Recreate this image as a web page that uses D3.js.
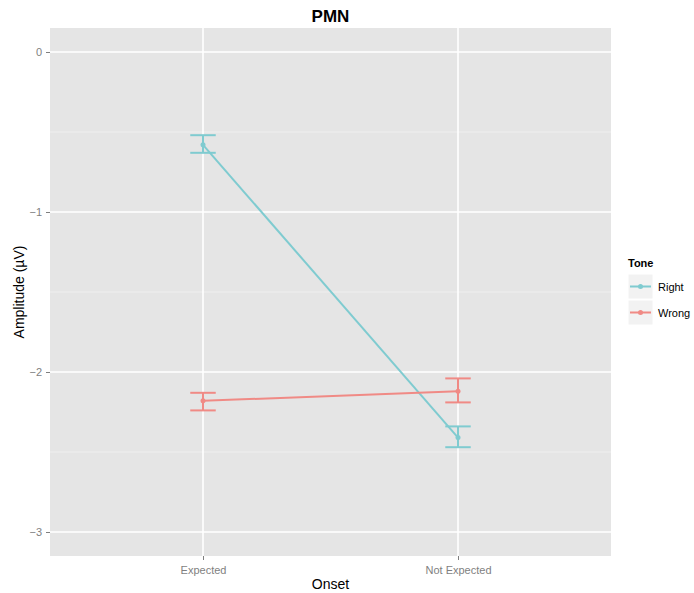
<!DOCTYPE html>
<html>
<head>
<meta charset="utf-8">
<script src="https://cdn.jsdelivr.net/npm/d3@7"></script>
<style>
  body { margin: 0; background: #fff; }
  text { font-family: "Liberation Sans", Arial, sans-serif; }
</style>
</head>
<body>
<svg id="chart" width="694" height="593"></svg>
<script>
// data
let onsets = ["Expected", "Not Expected"];
let tones = ["Right", "Wrong"];
let rightMean = [-0.58, -2.41];
let rightLow = [-0.63, -2.47];
let rightHigh = [-0.52, -2.34];
let wrongMean = [-2.18, -2.12];
let wrongLow = [-2.24, -2.19];
let wrongHigh = [-2.13, -2.04];
let yTicks = [0, -1, -2, -3];
let yMinor = [-0.5, -1.5, -2.5];

let toneColors = { Right: "#7fcbd0", Wrong: "#f08a85" };

let panel = { left: 50, right: 611, top: 28, bottom: 556 };

let svg = d3.select("#chart");

// discrete x with 0.6 expansion on each side
let x = d3.scalePoint()
    .domain(onsets)
    .range([panel.left, panel.right])
    .padding(0.6);

let y = d3.scaleLinear()
    .domain([-3.15, 0.15])
    .range([panel.bottom, panel.top]);

// panel background
svg.append("rect")
    .attr("x", panel.left)
    .attr("y", panel.top)
    .attr("width", panel.right - panel.left)
    .attr("height", panel.bottom - panel.top)
    .attr("fill", "#e5e5e5");

// minor grid
svg.selectAll(".minor")
    .data(yMinor)
    .enter()
    .append("line")
    .attr("x1", panel.left)
    .attr("x2", panel.right)
    .attr("y1", d => y(d))
    .attr("y2", d => y(d))
    .attr("stroke", "#f2f2f2")
    .attr("stroke-width", 0.8);

// major grid
svg.selectAll(".majorY")
    .data(yTicks)
    .enter()
    .append("line")
    .attr("x1", panel.left)
    .attr("x2", panel.right)
    .attr("y1", d => y(d))
    .attr("y2", d => y(d))
    .attr("stroke", "#ffffff")
    .attr("stroke-width", 1.6);

svg.selectAll(".majorX")
    .data(onsets)
    .enter()
    .append("line")
    .attr("x1", d => x(d))
    .attr("x2", d => x(d))
    .attr("y1", panel.top)
    .attr("y2", panel.bottom)
    .attr("stroke", "#ffffff")
    .attr("stroke-width", 1.6);

// axes
let yAxis = svg.append("g")
    .attr("transform", "translate(" + panel.left + ",0)")
    .call(d3.axisLeft(y).tickValues(yTicks).tickFormat(d3.format("d")).tickSize(4).tickPadding(4));

let xAxis = svg.append("g")
    .attr("transform", "translate(0," + panel.bottom + ")")
    .call(d3.axisBottom(x).tickSize(4).tickPadding(6));

[yAxis, xAxis].forEach(a => {
    a.select(".domain").remove();
    a.selectAll("line").attr("stroke", "#7f7f7f");
    a.selectAll("text")
        .attr("fill", "#7f7f7f")
        .style("font-size", "11px");
});

// series
let series = [
    { tone: "Right", mean: rightMean, low: rightLow, high: rightHigh },
    { tone: "Wrong", mean: wrongMean, low: wrongLow, high: wrongHigh }
];

let barHalf = (x.step() * 0.1) / 2;

series.forEach(s => {
    let col = toneColors[s.tone];
    let g = svg.append("g");

    let pts = onsets.map((o, i) => [x(o), y(s.mean[i])]);
    g.append("path")
        .attr("d", d3.line()(pts))
        .attr("fill", "none")
        .attr("stroke", col)
        .attr("stroke-width", 2);

    onsets.forEach((o, i) => {
        let cx = x(o);
        g.append("line")
            .attr("x1", cx).attr("x2", cx)
            .attr("y1", y(s.low[i])).attr("y2", y(s.high[i]))
            .attr("stroke", col).attr("stroke-width", 2);
        [s.low[i], s.high[i]].forEach(v => {
            g.append("line")
                .attr("x1", cx - barHalf).attr("x2", cx + barHalf)
                .attr("y1", y(v)).attr("y2", y(v))
                .attr("stroke", col).attr("stroke-width", 2);
        });
        g.append("circle")
            .attr("cx", cx)
            .attr("cy", y(s.mean[i]))
            .attr("r", 2.5)
            .attr("fill", col);
    });
});

// titles
svg.append("text")
    .attr("x", (panel.left + panel.right) / 2)
    .attr("y", 22)
    .attr("text-anchor", "middle")
    .style("font-size", "17px")
    .style("font-weight", "bold")
    .text("PMN");

svg.append("text")
    .attr("x", (panel.left + panel.right) / 2)
    .attr("y", 589)
    .attr("text-anchor", "middle")
    .style("font-size", "14px")
    .text("Onset");

svg.append("text")
    .attr("transform", "translate(24," + ((panel.top + panel.bottom) / 2) + ") rotate(-90)")
    .attr("text-anchor", "middle")
    .style("font-size", "14px")
    .text("Amplitude (µV)");

// legend (nudged left a little so "Wrong" fits inside the window)
let legend = svg.append("g").attr("transform", "translate(628,267)");

legend.append("text")
    .attr("x", 0)
    .attr("y", 0)
    .style("font-size", "11px")
    .style("font-weight", "bold")
    .text("Tone");

tones.forEach((t, i) => {
    let ky = 7 + i * 26;
    legend.append("rect")
        .attr("x", 0).attr("y", ky)
        .attr("width", 25).attr("height", 25)
        .attr("fill", "#f2f2f2")
        .attr("stroke", "#ffffff")
        .attr("stroke-width", 1);
    legend.append("line")
        .attr("x1", 2).attr("x2", 23)
        .attr("y1", ky + 12.5).attr("y2", ky + 12.5)
        .attr("stroke", toneColors[t])
        .attr("stroke-width", 2);
    legend.append("circle")
        .attr("cx", 12.5).attr("cy", ky + 12.5)
        .attr("r", 2.5)
        .attr("fill", toneColors[t]);
    legend.append("text")
        .attr("x", 30)
        .attr("y", ky + 16.5)
        .style("font-size", "11px")
        .text(t);
});
</script>
</body>
</html>
